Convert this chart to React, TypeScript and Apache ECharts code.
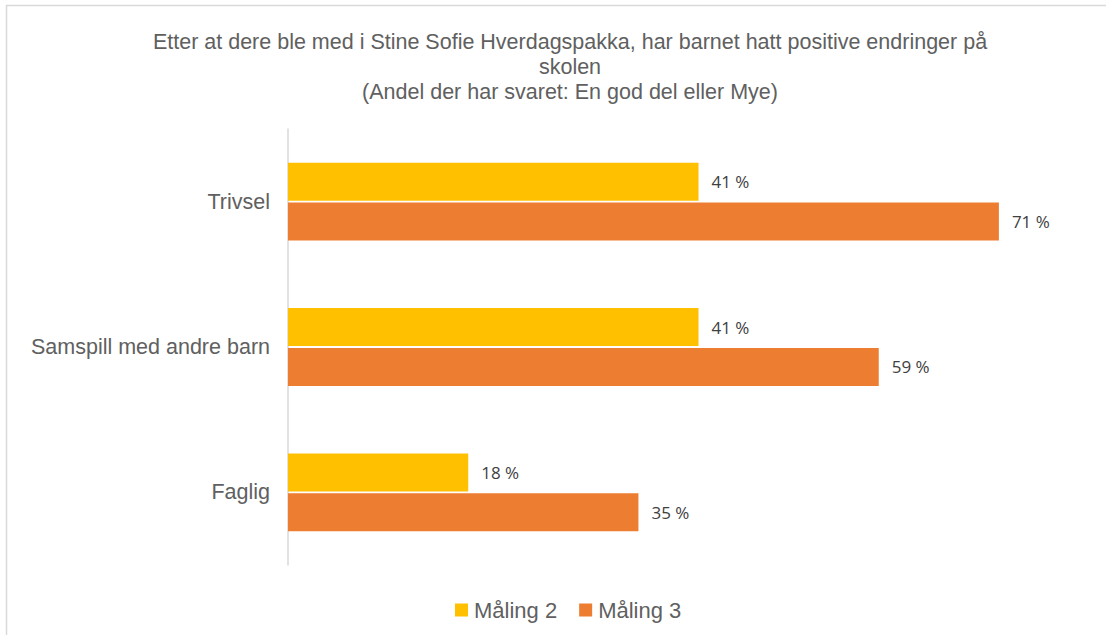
import React, { useEffect, useRef } from "react";
import * as echarts from "echarts";

const categories = ["Trivsel", "Samspill med andre barn", "Faglig"];
const seriesNames = ["Måling 2", "Måling 3"];
const maling2 = [41, 41, 18];
const maling3 = [71, 59, 35];
const colors = ["#FFC000", "#ED7D31"];

export default function App() {
  const ref = useRef<HTMLDivElement>(null);
  useEffect(() => {
    document.body.style.margin = "0";
    const chart = echarts.init(ref.current!, null, { renderer: "svg" });
    const labelStyle = {
      show: true,
      position: "right",
      distance: 13,
      color: "#404040",
      fontSize: 17,
      fontFamily: "Open Sans",
      formatter: (p: any) => `${p.value} %`,
    };
    chart.setOption({
      animation: false,
      backgroundColor: "#ffffff",
      title: {
        text:
          "Etter at dere ble med i Stine Sofie Hverdagspakka, har barnet hatt positive endringer på\nskolen\n(Andel der har svaret: En god del eller Mye)",
        left: 565,
        textAlign: "center",
        top: 24,
        textStyle: {
          fontFamily: "Liberation Sans",
          fontSize: 21.5,
          fontWeight: "normal",
          color: "#606060",
          lineHeight: 25,
        },
      },
      legend: {
        data: seriesNames,
        top: 594,
        left: 450,
        itemWidth: 13,
        itemHeight: 13,
        itemGap: 22,
        icon: "rect",
        textStyle: { fontFamily: "Liberation Sans", fontSize: 22, color: "#606060", padding: [0, 0, 0, 1] },
      },
      graphic: [
        {
          type: "rect",
          shape: { x: 6.5, y: 5.5, width: 1200, height: 1000 },
          style: { fill: "none", stroke: "#d9d9d9", lineWidth: 1.5 },
          silent: true,
        },
      ],
      grid: { left: 288, right: 17, top: 129, bottom: 70 },
      xAxis: {
        type: "value",
        min: 0,
        max: 80,
        axisLabel: { show: false },
        splitLine: { show: false },
        axisLine: { show: false },
        axisTick: { show: false },
      },
      yAxis: {
        type: "category",
        inverse: true,
        data: categories,
        axisLine: { show: true, lineStyle: { color: "#d9d9d9", width: 1.5 } },
        axisTick: { show: false },
        axisLabel: {
          fontFamily: "Liberation Sans",
          fontSize: 21.5,
          color: "#606060",
          margin: 18,
        },
      },
      series: [
        {
          name: seriesNames[0],
          type: "bar",
          data: maling2,
          itemStyle: { color: colors[0] },
          barWidth: 38,
          barGap: "5%",
          label: labelStyle,
        },
        {
          name: seriesNames[1],
          type: "bar",
          data: maling3,
          itemStyle: { color: colors[1] },
          barWidth: 38,
          barGap: "5%",
          label: labelStyle,
        },
      ],
    });
    return () => chart.dispose();
  }, []);
  return <div ref={ref} style={{ width: 1106, height: 635 }} />;
}
